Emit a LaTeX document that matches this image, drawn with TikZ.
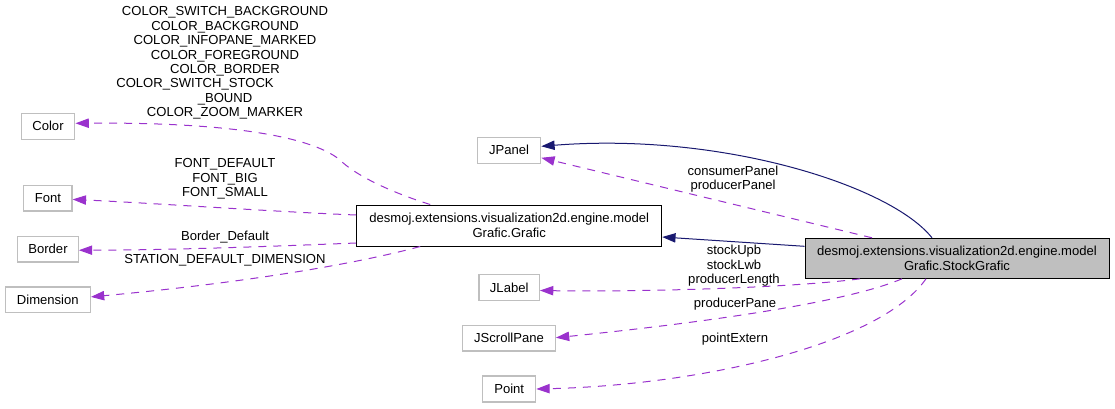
\documentclass[tikz,border=0pt]{standalone}
\usepackage{fontspec}
\setmainfont{Liberation Sans}
\usetikzlibrary{arrows.meta,calc}
\definecolor{inh}{HTML}{191970}
\definecolor{use}{HTML}{9A32CD}
\definecolor{gborder}{HTML}{BFBFBF}
\definecolor{gfill}{HTML}{BFBFBF}
\begin{document}
\begin{tikzpicture}[x=0.75pt,y=-0.75pt,
  every node/.style={font=\fontsize{9.8pt}{10.8pt}\selectfont, inner sep=0pt, align=center},
  gbox/.style={draw=gborder, line width=0.9pt, fill=white},
  mainbox/.style={draw=black, line width=0.75pt, fill=white},
  selbox/.style={draw=black, line width=0.75pt, fill=gfill},
  lbl/.style={},
  inhline/.style={draw=inh, line width=0.75pt, -{Triangle[length=10pt,width=7pt]}},
  useline/.style={draw=use, line width=0.75pt, dash pattern=on 6pt off 5.25pt, -{Triangle[length=10pt,width=7pt]}}
]
\useasboundingbox (0,0) rectangle (1115,408);

% nodes
\node[gbox, minimum width=53.7*0.75pt, minimum height=26*0.75pt] (color) at (48,126.3) {Color};
\node[gbox, minimum width=48.3*0.75pt, minimum height=25.3*0.75pt] (font) at (47.9,198.4) {Font};
\node[gbox, minimum width=60.6*0.75pt, minimum height=25.7*0.75pt] (border) at (48,249.2) {Border};
\node[gbox, minimum width=85*0.75pt, minimum height=25.7*0.75pt] (dimension) at (47.8,299.9) {Dimension};
\node[mainbox, minimum width=305*0.75pt, minimum height=41*0.75pt] (grafic) at (509.2,225.5) {desmoj.extensions.visualization2d.engine.model\\Grafic.Grafic};
\node[gbox, minimum width=63.4*0.75pt, minimum height=26*0.75pt] (jpanel) at (509,150.3) {JPanel};
\node[gbox, minimum width=60.3*0.75pt, minimum height=26.4*0.75pt] (jlabel) at (509.2,287.5) {JLabel};
\node[gbox, minimum width=92.6*0.75pt, minimum height=25.7*0.75pt] (jscroll) at (509,338.2) {JScrollPane};
\node[gbox, minimum width=53*0.75pt, minimum height=26*0.75pt] (point) at (509.2,389) {Point};
\node[selbox, minimum width=304*0.75pt, minimum height=40*0.75pt] (sg) at (957,258.3) {desmoj.extensions.visualization2d.engine.model\\Grafic.StockGrafic};

% inheritance edges
\draw[inhline] ($(sg.north)+(-25,0)$) .. controls (890,185) and (720,132) .. ($(jpanel.east)+(0,-4)$);
\draw[inhline] ($(sg.west)+(0,-12)$) -- ($(grafic.east)+(0,11.5)$);

% usage edges from StockGrafic
\draw[useline] ($(sg.north)+(-85,0)$) -- ($(jpanel.east)+(0,7.5)$);
\draw[useline] ($(sg.south)+(-97,0)$) .. controls (790,288) and (640,292) .. ($(jlabel.east)+(0,3)$);
\draw[useline] ($(sg.south)+(-55,0)$) .. controls (840,305) and (680,325) .. ($(jscroll.east)+(0,-0.5)$);
\draw[useline] ($(sg.south)+(-31,0)$) .. controls (880,345) and (700,385) .. (point.east);

% usage edges from Grafic
\draw[useline] ($(grafic.north)+(-79,0)$) .. controls (390,192) and (355,175) .. (340,160) .. controls (310,135) and (220,122) .. ($(color.east)+(0,-3)$);
\draw[useline] ($(grafic.west)+(0,-10.5)$) .. controls (280,212) and (150,203) .. ($(font.east)+(0,1)$);
\draw[useline] ($(grafic.west)+(0,17.5)$) .. controls (280,246) and (180,250) .. ($(border.east)+(0,1)$);
\draw[useline] ($(grafic.south)+(-89,0)$) .. controls (340,268) and (220,285) .. ($(dimension.east)+(0,-3)$);

% labels
\node[lbl] (lcolor) at (225,63) {COLOR\_SWITCH\_BACKGROUND\\COLOR\_BACKGROUND\\COLOR\_INFOPANE\_MARKED\\COLOR\_FOREGROUND\\COLOR\_BORDER\\\mbox{COLOR\_SWITCH\_STOCK\hspace*{45pt}}\\\_BOUND\\COLOR\_ZOOM\_MARKER};
\node[lbl] (lfont) at (225,179) {FONT\_DEFAULT\\FONT\_BIG\\FONT\_SMALL};
\node[lbl] (lborder) at (225,236.7) {Border\_Default};
\node[lbl] (ldim) at (225,260) {STATION\_DEFAULT\_DIMENSION};
\node[lbl] (lpanel) at (733,179) {consumerPanel\\producerPanel};
\node[lbl] (llabel) at (734,266) {stockUpb\\stockLwb\\producerLength};
\node[lbl] (lscroll) at (735,304) {producerPane};
\node[lbl] (lpoint) at (735,339) {pointExtern};
\end{tikzpicture}
\end{document}
